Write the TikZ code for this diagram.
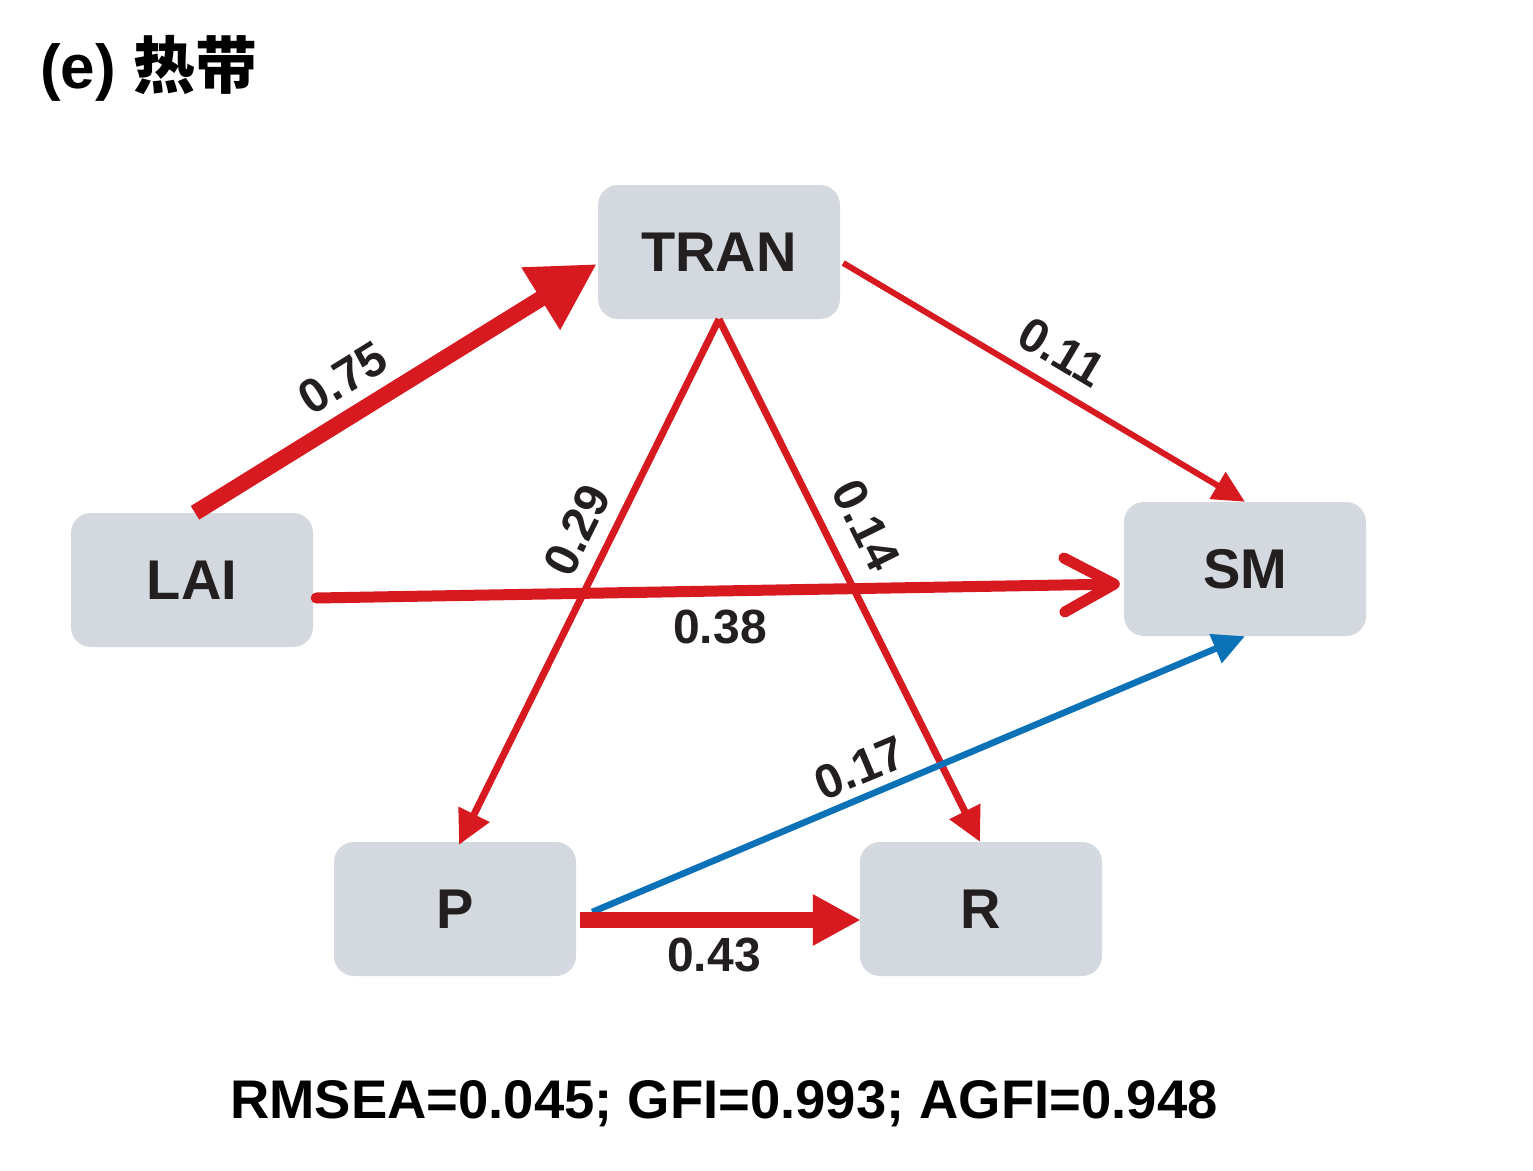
\documentclass[tikz,border=0pt]{standalone}
\usepackage{fontspec}
\setmainfont{Liberation Sans}
\newfontfamily\cjk{Noto Sans CJK SC}
\usetikzlibrary{arrows.meta,calc}
\definecolor{pathred}{HTML}{D71920}
\definecolor{pathblue}{HTML}{0B72B7}
\definecolor{boxfill}{HTML}{D3D9DE}
\definecolor{txt}{HTML}{231F20}
\tikzset{
  var/.style={rectangle, rounded corners=20pt, fill=boxfill, draw=none,
    minimum width=242pt, minimum height=134pt, inner sep=0pt,
    text=txt, font=\fontsize{56}{60}\selectfont\bfseries},
  coef/.style={text=txt, inner sep=0pt, font=\fontsize{48}{50}\selectfont\bfseries},
  redpath/.style={draw=pathred, line join=miter},
  bluepath/.style={draw=pathblue, line join=miter},
}
\begin{document}
\begin{tikzpicture}[x=1pt,y=-1pt]
\useasboundingbox (0,0) rectangle (1533,1170);
% title
\node[anchor=base west, inner sep=0pt, font=\fontsize{62}{64}\selectfont\bfseries] (title) at (40,88) {(e) {\cjk\bfseries 热带}};
% variables
\node[var] (TRAN) at (719,252) {\raisebox{-3pt}{TRAN}};
\node[var] (LAI) at (192,580) {\raisebox{-3pt}{LAI}};
\node[var] (SM) at (1245,569) {\raisebox{-3pt}{SM}};
\node[var] (P) at (455,909) {\raisebox{-3pt}{P}};
\node[var] (R) at (981,909) {\raisebox{-3pt}{R}};
% paths
\draw[redpath, line width=16pt, -{Triangle[length=66pt,width=69pt]}]
  ($(LAI.north)+(3,0)$) -- ($(TRAN.west)+(-1,12)$);
\draw[redpath, line width=6pt, -{Triangle[length=32pt,width=30pt]}]
  ($(TRAN.east)+(3,11)$) -- (SM.north);
\draw[redpath, line width=7pt, -{Triangle[length=34pt,width=33pt]}]
  (TRAN.south) -- ($(P.north)+(4,3)$);
\draw[redpath, line width=7pt, -{Triangle[length=34pt,width=33pt]}]
  (TRAN.south) -- ($(R.north)+(-1,0)$);
\draw[redpath, line width=11pt, line cap=round, -{Straight Barb[length=50pt,width=54pt,line cap=round,line join=round]}]
  ($(LAI.east)+(3,18)$) -- ($(SM.west)+(-4,15)$);
\draw[bluepath, line width=6.5pt, -{Triangle[length=32pt,width=30pt]}]
  ($(P.east)+(16,3)$) -- (SM.south);
\draw[redpath, line width=16pt, -{Triangle[length=48pt,width=48pt]}]
  ($(P.east)+(4,11)$) -- ($(R.west)+(1,11)$);
% coefficients
\node[coef, rotate=31.7] (c75) at (343,378) {0.75};
\node[coef, rotate=-30.7] (c11) at (1062,352) {0.11};
\node[coef, rotate=63.6] (c29) at (577,530) {0.29};
\node[coef, rotate=-63.6] (c14) at (866,525) {0.14};
\node[coef] (c38) at (720,627) {0.38};
\node[coef, rotate=22.7] (c17) at (860,768) {0.17};
\node[coef] (c43) at (714,955) {0.43};
% fit indices
\node[inner sep=0pt, font=\fontsize{54.4}{58}\selectfont\bfseries] (fit) at (724,1104) {RMSEA=0.045; GFI=0.993; AGFI=0.948};
\end{tikzpicture}
\end{document}
